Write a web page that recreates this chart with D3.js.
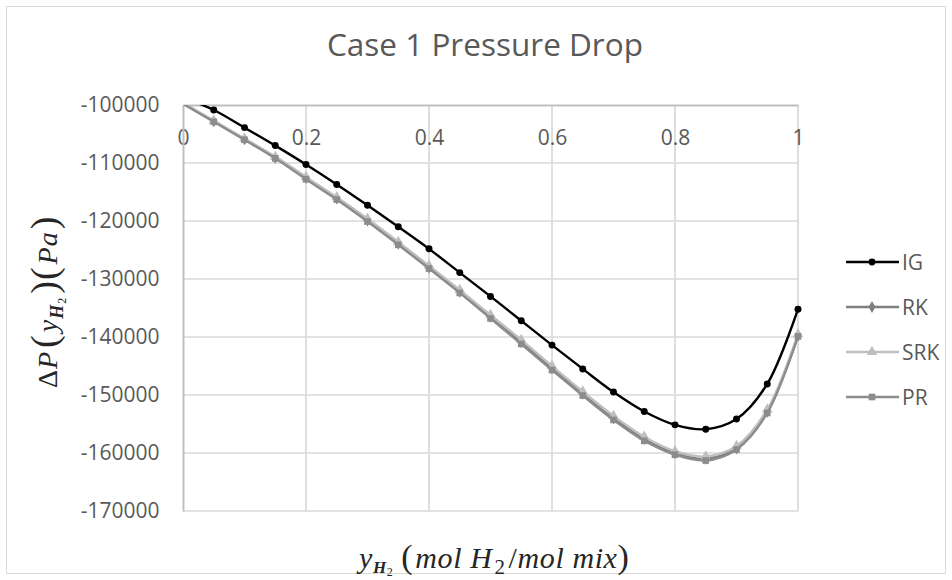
<!DOCTYPE html>
<html>
<head>
<meta charset="utf-8">
<script src="https://cdn.jsdelivr.net/npm/d3@7"></script>
<style>
  body { margin: 0; background: #ffffff; }
  svg { display: block; }
</style>
</head>
<body>
<svg id="chart" width="952" height="580"></svg>
<script>
// Hydrogen mole fraction samples
const xValues = [0, 0.05, 0.1, 0.15, 0.2, 0.25, 0.3, 0.35, 0.4, 0.45, 0.5,
                 0.55, 0.6, 0.65, 0.7, 0.75, 0.8, 0.85, 0.9, 0.95, 1];

// Pressure drop (Pa) for each equation of state
const igValues  = [-98700, -100860, -103900, -107000, -110250, -113700, -117300, -121000,
                   -124800, -128900, -133000, -137200, -141400, -145500, -149500, -152850,
                   -155150, -155900, -154150, -148100, -135200];
const rkValues  = [-99700, -102800, -105900, -109100, -112600, -116100, -119900, -123900,
                   -128000, -132200, -136500, -140900, -145400, -149800, -154000, -157600,
                   -160000, -161000, -159200, -152900, -139800];
const srkValues = [-99600, -102700, -105800, -108900, -112400, -115900, -119600, -123600,
                   -127700, -131900, -136200, -140500, -145000, -149400, -153600, -157200,
                   -159700, -160600, -158800, -152500, -139500];
const prValues  = [-99800, -102900, -106000, -109200, -112800, -116300, -120100, -124100,
                   -128200, -132400, -136800, -141200, -145700, -150100, -154300, -157900,
                   -160300, -161300, -159400, -153100, -139900];

const seriesNames = ["IG", "RK", "SRK", "PR"];
const xTicks = [0, 0.2, 0.4, 0.6, 0.8, 1];
const yTicks = [-100000, -110000, -120000, -130000, -140000, -150000, -160000, -170000];

const titleText = "Case 1 Pressure Drop";

const svg = d3.select("#chart");
const W = 952, H = 580;
const plot = { left: 183, right: 798, top: 105, bottom: 511 };

const x = d3.scaleLinear().domain([0, 1]).range([plot.left, plot.right]);
const y = d3.scaleLinear().domain([-170000, -100000]).range([plot.bottom, plot.top]);

const labelFont = "'Open Sans', 'DejaVu Sans', sans-serif";
const mathFont = "'Liberation Serif', 'DejaVu Serif', serif";
const textGrey = "#595959";
const mathInk = "#262626";

// outer chart frame
svg.append("rect")
  .attr("x", 6.5).attr("y", 6.5)
  .attr("width", W - 13).attr("height", H - 13)
  .attr("fill", "#ffffff")
  .attr("stroke", "#d9d9d9").attr("stroke-width", 1);

// title
svg.append("text")
  .attr("x", 485).attr("y", 56)
  .attr("text-anchor", "middle")
  .attr("font-family", labelFont)
  .attr("font-size", 31.5)
  .attr("fill", textGrey)
  .text(titleText);

// gridlines
const grid = svg.append("g").attr("class", "grid");
grid.selectAll("line.h")
  .data(yTicks.filter(v => v !== -100000))
  .join("line")
  .attr("class", "h")
  .attr("x1", plot.left).attr("x2", plot.right)
  .attr("y1", d => y(d)).attr("y2", d => y(d))
  .attr("stroke", "#d9d9d9").attr("stroke-width", 1.7);
grid.selectAll("line.v")
  .data(xTicks.filter(v => v !== 0))
  .join("line")
  .attr("class", "v")
  .attr("y1", plot.top).attr("y2", plot.bottom)
  .attr("x1", d => x(d)).attr("x2", d => x(d))
  .attr("stroke", "#d9d9d9").attr("stroke-width", 1.7);

// horizontal axis crosses at the top (-100000)
const xAxis = d3.axisBottom(x).tickValues(xTicks).tickSize(0).tickPadding(25)
  .tickFormat(d => d3.format("~g")(d));
const gx = svg.append("g")
  .attr("transform", `translate(0,${plot.top})`)
  .call(xAxis);
gx.select(".domain").attr("stroke", "#bfbfbf").attr("stroke-width", 2);
gx.selectAll("text")
  .attr("font-family", labelFont).attr("font-size", 21).attr("fill", textGrey);

const yAxis = d3.axisLeft(y).tickValues(yTicks).tickSize(0).tickPadding(23.5)
  .tickFormat(d => String(d));
const gy = svg.append("g")
  .attr("transform", `translate(${plot.left},0)`)
  .call(yAxis);
gy.select(".domain").attr("stroke", "#bfbfbf").attr("stroke-width", 2);
gy.selectAll("text")
  .attr("font-family", labelFont).attr("font-size", 21).attr("fill", textGrey);

// series
const series = [
  { name: seriesNames[0], values: igValues,  color: "#000000", symbol: d3.symbolCircle,   size: 38 },
  { name: seriesNames[1], values: rkValues,  color: "#7f7f7f", symbol: d3.symbolDiamond,  size: 42 },
  { name: seriesNames[2], values: srkValues, color: "#bfbfbf", symbol: d3.symbolTriangle, size: 50 },
  { name: seriesNames[3], values: prValues,  color: "#8c8c8c", symbol: d3.symbolSquare,   size: 44 }
];

// lines are cut off at the top of the value range
svg.append("clipPath").attr("id", "plot-clip")
  .append("rect")
  .attr("x", plot.left - 6).attr("y", plot.top)
  .attr("width", plot.right - plot.left + 12).attr("height", plot.bottom - plot.top + 6);

const line = d3.line()
  .x((d, i) => x(xValues[i]))
  .y(d => y(d))
  .curve(d3.curveCatmullRom.alpha(0.5));

const gSeries = svg.append("g").attr("class", "series");
series.forEach(s => {
  const g = gSeries.append("g");
  g.append("path")
    .attr("clip-path", "url(#plot-clip)")
    .attr("d", line(s.values))
    .attr("fill", "none")
    .attr("stroke", s.color)
    .attr("stroke-width", 2.4)
    .attr("stroke-linejoin", "round");
  // markers are only drawn for points inside the value range
  const pts = s.values.map((v, i) => ({ xv: xValues[i], v }))
    .filter(p => p.v <= -100000);
  g.selectAll("path.m")
    .data(pts)
    .join("path")
    .attr("class", "m")
    .attr("transform", p => `translate(${x(p.xv)},${y(p.v)})`)
    .attr("d", d3.symbol().type(s.symbol).size(s.size))
    .attr("fill", s.color);
});

// legend
const legend = svg.append("g").attr("class", "legend");
series.forEach((s, i) => {
  const ly = 262 + i * 45;
  const g = legend.append("g").attr("transform", `translate(0,${ly})`);
  g.append("line")
    .attr("x1", 846).attr("x2", 899)
    .attr("stroke", s.color).attr("stroke-width", 2.4);
  g.append("path")
    .attr("transform", "translate(872,0)")
    .attr("d", d3.symbol().type(s.symbol).size(s.size))
    .attr("fill", s.color);
  g.append("text")
    .attr("x", 902).attr("y", 0).attr("dy", "0.36em")
    .attr("font-family", labelFont).attr("font-size", 21)
    .attr("fill", textGrey)
    .text(s.name);
});

// vertical axis title: ΔP(y_H2)(Pa)
const yTitle = svg.append("text")
  .attr("transform", `translate(57,388) rotate(-90)`)
  .attr("text-anchor", "start")
  .attr("font-family", mathFont)
  .attr("font-size", 28)
  .attr("letter-spacing", 1)
  .attr("fill", mathInk);
yTitle.append("tspan").text("Δ");
yTitle.append("tspan").attr("font-style", "italic").text("P");
yTitle.append("tspan").attr("font-size", 38).attr("dx", 3).text("(");
yTitle.append("tspan").attr("font-style", "italic").attr("dx", 2).text("y");
yTitle.append("tspan").attr("font-style", "italic").attr("font-size", 18).attr("font-weight", "bold").attr("dy", 6).text("H");
yTitle.append("tspan").attr("font-size", 12).attr("dy", 3).text("2");
yTitle.append("tspan").attr("font-size", 38).attr("dy", -9).attr("dx", 3).text(")");
yTitle.append("tspan").attr("font-size", 38).text("(");
yTitle.append("tspan").attr("font-style", "italic").attr("dx", 2).text("Pa");
yTitle.append("tspan").attr("font-size", 38).attr("dx", 2).text(")");

// horizontal axis title: y_H2 (mol H2 / mol mix)
const xTitle = svg.append("text")
  .attr("x", 359).attr("y", 568)
  .attr("text-anchor", "start")
  .attr("font-family", mathFont)
  .attr("font-size", 30)
  .attr("letter-spacing", 0.6)
  .attr("fill", mathInk);
xTitle.append("tspan").attr("font-style", "italic").text("y");
xTitle.append("tspan").attr("font-style", "italic").attr("font-size", 17).attr("font-weight", "bold").attr("dy", 5).text("H");
xTitle.append("tspan").attr("font-size", 12).attr("dy", 3).text("2");
xTitle.append("tspan").attr("dy", -8).attr("dx", 8).attr("font-size", 34).text("(");
xTitle.append("tspan").attr("font-style", "italic").attr("dx", 2).text("mol H");
xTitle.append("tspan").attr("font-size", 21).attr("dy", 6).attr("dx", 2).text("2");
xTitle.append("tspan").attr("dy", -6).attr("dx", 3).text("/");
xTitle.append("tspan").attr("font-style", "italic").text("mol mix");
xTitle.append("tspan").attr("font-size", 34).text(")");
</script>
</body>
</html>
